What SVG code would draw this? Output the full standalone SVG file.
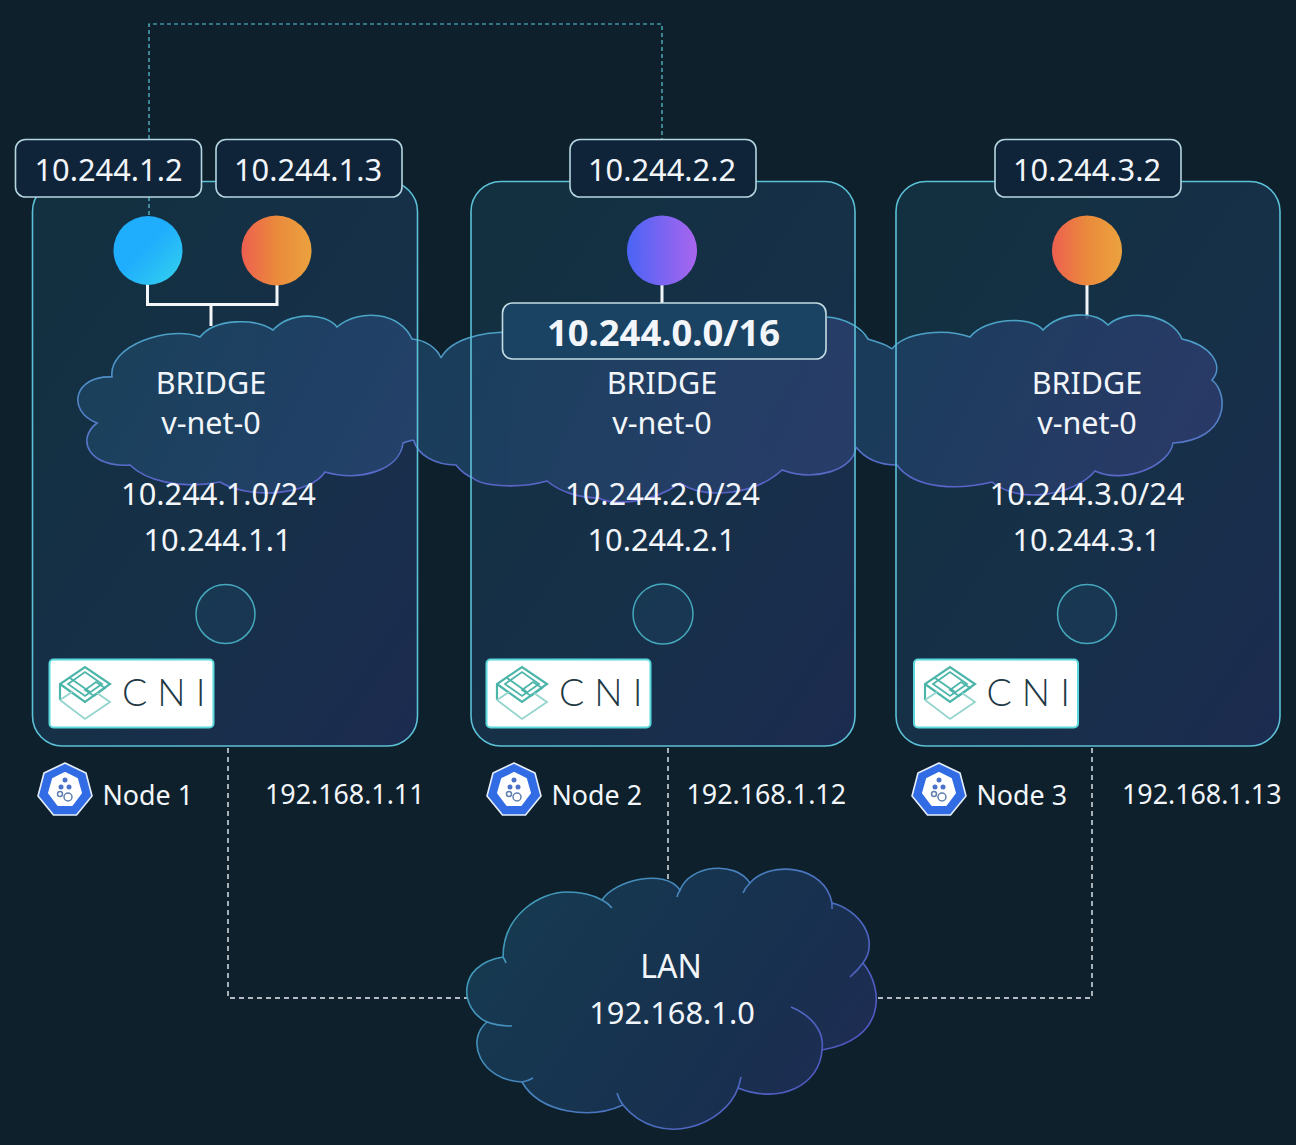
<svg xmlns="http://www.w3.org/2000/svg" width="1296" height="1145" viewBox="0 0 1296 1145">
<style>
text{font-family:"Noto Sans","Open Sans","DejaVu Sans",sans-serif;fill:#f2f6fa;text-anchor:middle}
.box{stroke:none}
.edge{fill:none;stroke:#5cc0d6;stroke-width:1.6}
.lab{fill:#0f2438;stroke:#b5d5e0;stroke-width:1.6}
.t30{font-size:30.800px}
.t29{font-size:30.500px}
.n{font-size:26.800px;text-anchor:start}
.wire{fill:none;stroke:#f2f6f8;stroke-width:3}
.dt{fill:none;stroke:#5fc8d8;stroke-width:1.200;stroke-dasharray:4 3}
.dw{fill:none;stroke:#e8eef2;stroke-width:1.400;stroke-dasharray:5 4}
.port{fill:#1a3d58;fill-opacity:.6;stroke:#45a8bc;stroke-width:1.500}
.cf{stroke:none}
.cs{fill:none;stroke-width:1.600}
.cni{font-family:"Lato","Noto Sans",sans-serif;font-weight:300;font-size:37.500px;letter-spacing:10px;fill:#1e3844;text-anchor:start}
.cnibox{fill:#fff;stroke:#5ad8dc;stroke-width:2}
</style>
<defs>
<linearGradient id="gBox1" x1="0" y1="0" x2="1" y2="1"><stop offset="0" stop-color="#12303f"/><stop offset=".55" stop-color="#163048"/><stop offset="1" stop-color="#1c2b50"/></linearGradient>
<linearGradient id="gC1" gradientUnits="userSpaceOnUse" x1="77" y1="320" x2="418" y2="500"><stop offset="0" stop-color="#19425c"/><stop offset="1" stop-color="#274470"/></linearGradient>
<linearGradient id="gC2" gradientUnits="userSpaceOnUse" x1="418" y1="320" x2="855" y2="500"><stop offset="0" stop-color="#1a4260"/><stop offset="1" stop-color="#2c3f6e"/></linearGradient>
<linearGradient id="gC3" gradientUnits="userSpaceOnUse" x1="855" y1="320" x2="1223" y2="500"><stop offset="0" stop-color="#1b4060"/><stop offset="1" stop-color="#2e3a6c"/></linearGradient>
<linearGradient id="gCloudS" gradientUnits="userSpaceOnUse" x1="0" y1="320" x2="0" y2="500"><stop offset="0" stop-color="#4aa5c6"/><stop offset="1" stop-color="#5a5ec8"/></linearGradient>
<linearGradient id="gLanF" gradientUnits="userSpaceOnUse" x1="500" y1="880" x2="840" y2="1120"><stop offset="0" stop-color="#163a50"/><stop offset=".6" stop-color="#17314f"/><stop offset="1" stop-color="#1e2c52"/></linearGradient>
<linearGradient id="gLanS" gradientUnits="userSpaceOnUse" x1="520" y1="880" x2="800" y2="1120"><stop offset="0" stop-color="#3f9fb8"/><stop offset="1" stop-color="#5257c4"/></linearGradient>
<linearGradient id="gBlue" x1="0" y1="0" x2="1" y2="1"><stop offset=".45" stop-color="#1fadfd"/><stop offset="1" stop-color="#34d3ee"/></linearGradient>
<linearGradient id="gOrange" x1="0" y1="0" x2="1" y2="0"><stop offset="0" stop-color="#ed5f50"/><stop offset=".5" stop-color="#ea8a3c"/><stop offset="1" stop-color="#eba23e"/></linearGradient>
<linearGradient id="gPurple" x1="0" y1="0" x2="1" y2="0"><stop offset="0" stop-color="#4a64f5"/><stop offset="1" stop-color="#a965ee"/></linearGradient>
<g id="cniLogo" fill="none" stroke="#4bb5aa">
<path d="M0 40V24L25 7 50 24 25 42 0 24" stroke-width="2.200"/>
<path d="M8 24 25 12 42 24 25 36Z" stroke-width="1.800"/>
<path d="M25 30 36 22 45 28 34 36ZM10 18 30 32" stroke-width="1.800"/>
<path d="M0 40 25 59 50 42 37 33M0 40 12 32" stroke="#93d4cd" stroke-width="1.800"/>
</g>
<g id="k8s">
<path d="M0-27 21-17 27 6 11.500 25-11.500 25-27 6-21-17Z" fill="#326ce5" stroke="#e6eefb" stroke-width="1.600" stroke-linejoin="round"/>
<path d="M0-17 12-11 16 3 7 15-7 15-16 3-12-11Z" fill="#fff" stroke="#fff" stroke-width="2" stroke-linejoin="round"/>
<g fill="#4a72c8"><circle cx="0" cy="-10" r="2.500"/><circle cx="-4" cy="-3" r="2.500"/><circle cx="4" cy="-3" r="2.500"/></g>
<g fill="none" stroke="#5f7faf" stroke-width="1.500"><circle cx="-5" cy="4" r="2.500"/><circle cx="3" cy="7" r="4"/></g>
</g>
</defs>
<rect id="background" x="0" y="0" width="1296" height="1145" fill="#0d202c"/>

<g id="connectors">
<path class="dt" d="M149 216V24H662V140"/>
<path class="dw" d="M228 748V998H467"/>
<path class="dw" d="M668 748V885"/>
<path class="dw" d="M1092 748V998H877"/>
</g>

<g id="node-1"><rect class="box" x="32.500" y="181.500" width="385" height="564.500" rx="30" fill="url(#gBox1)"/></g>
<g id="node-2"><rect class="box" x="471" y="181.500" width="384" height="564.500" rx="30" fill="url(#gBox1)"/></g>
<g id="node-3"><rect class="box" x="896" y="181.500" width="384" height="564.500" rx="30" fill="url(#gBox1)"/></g>

<g id="dash-over-node"><path class="dt" d="M149 197V217"/></g>

<g id="wires">
<path class="wire" d="M147.500 284V304.500H277V284M211 304.500V326"/>
<path class="wire" d="M662 284V304"/>
<path class="wire" d="M1087 284V319"/>
</g>

<g id="bridge-clouds" opacity=".88">
<path id="bridge-1-fill" class="cf" fill="url(#gC1)" d="M418 341C415 340 414 339 412 339C400 312 360 308 337 327C325 312 290 312 273 330C255 318 215 318 200 337C170 325 108 345 112 377C75 375 65 410 97 423C75 440 90 468 130 465C145 480 180 490 220 482C250 500 310 495 325 472C360 482 400 470 403 443Q408 441 413.500 440Q415 446 418 451Z"/>
<path id="bridge-2-fill" class="cf" fill="url(#gC2)" d="M418 341C426 343 436 349 441 358C450 340 480 332 510 332L827 317C840 318 850 322 855 328L856 447C854 470 815 482 782 470C755 495 705 500 680 483C650 505 610 505 599 498C580 498 560 492 547 481C515 490 480 485 473 478C465 475 460 470 456 465C440 465 425 460 418 451Z"/>
<path id="bridge-3-fill" class="cf" fill="url(#gC3)" d="M855 328C858 331 865 335 868 339C876 342 886 344 892 349C905 332 945 328 970 337C985 318 1030 315 1043 330C1060 312 1095 310 1108 325C1125 309 1170 312 1182 339C1210 345 1225 365 1212 380C1230 395 1228 440 1173 443C1170 465 1125 485 1095 471C1075 495 1020 505 992 482C960 490 915 490 897 465Q870 465 856 447Z"/>
</g>
<g id="bridge-outlines">
<path class="cs" stroke="url(#gCloudS)" d="M441 358C437 348 425 340 412 339C400 312 360 308 337 327C325 312 290 312 273 330C255 318 215 318 200 337C170 325 108 345 112 377C75 375 65 410 97 423C75 440 90 468 130 465C145 480 180 490 220 482C250 500 310 495 325 472C360 482 400 470 403 443Q408 441 413.500 440"/>
<path class="cs" stroke="url(#gCloudS)" d="M441 358C450 340 480 332 510 332M827 317C845 318 862 328 868 339C876 342 886 344 892 349"/>
<path class="cs" stroke="url(#gCloudS)" d="M413.500 440C418 455 435 465 456 465C460 470 465 475 473 478C480 485 515 490 547 481C560 492 580 498 599 498C610 505 650 505 680 483C705 500 755 495 782 470C815 482 854 470 856 447"/>
<path class="cs" stroke="url(#gCloudS)" d="M892 349C905 332 945 328 970 337C985 318 1030 315 1043 330C1060 312 1095 310 1108 325C1125 309 1170 312 1182 339C1210 345 1225 365 1212 380C1230 395 1228 440 1173 443C1170 465 1125 485 1095 471C1075 495 1020 505 992 482C960 490 915 490 897 465Q870 465 856 447"/>
</g>

<g id="node-outlines">
<rect class="edge" x="32.500" y="181.500" width="385" height="564.500" rx="30"/>
<rect class="edge" x="471" y="181.500" width="384" height="564.500" rx="30"/>
<rect class="edge" x="896" y="181.500" width="384" height="564.500" rx="30"/>
</g>

<g id="pod-1"><circle cx="148" cy="250.500" r="34.500" fill="url(#gBlue)"/></g>
<g id="pod-2"><circle cx="276.500" cy="250.500" r="35" fill="url(#gOrange)"/></g>
<g id="pod-3"><circle cx="662" cy="250.500" r="35" fill="url(#gPurple)"/></g>
<g id="pod-4"><circle cx="1087" cy="250.500" r="35" fill="url(#gOrange)"/></g>

<g id="ip-1"><rect class="lab" x="15.500" y="139.500" width="186" height="57.500" rx="10"/><text class="t30" x="108.500" y="180.500">10.244.1.2</text></g>
<g id="ip-2"><rect class="lab" x="216" y="139.500" width="186" height="57.500" rx="10"/><text class="t30" x="308" y="180.500">10.244.1.3</text></g>
<g id="ip-3"><rect class="lab" x="570" y="139.500" width="186" height="57.500" rx="10"/><text class="t30" x="662" y="180.500">10.244.2.2</text></g>
<g id="ip-4"><rect class="lab" x="995" y="139.500" width="186" height="57.500" rx="10"/><text class="t30" x="1087" y="180.500">10.244.3.2</text></g>

<g id="network-label"><rect x="502.500" y="303" width="323.500" height="56" rx="10" fill="#1a4262" stroke="#c3dbe3" stroke-width="1.600"/><text x="663.500" y="345.500" style="font-size:36.400px;font-weight:700">10.244.0.0/16</text></g>

<g id="bridge-text-1"><text class="t29" x="211" y="394">BRIDGE</text><text class="t29" x="211" y="434">v-net-0</text><text class="t30" x="218.500" y="505">10.244.1.0/24</text><text class="t30" x="217.500" y="551">10.244.1.1</text></g>
<g id="bridge-text-2"><text class="t29" x="662" y="394">BRIDGE</text><text class="t29" x="662" y="434">v-net-0</text><text class="t30" x="662.500" y="505">10.244.2.0/24</text><text class="t30" x="661.500" y="551">10.244.2.1</text></g>
<g id="bridge-text-3"><text class="t29" x="1087" y="394">BRIDGE</text><text class="t29" x="1087" y="434">v-net-0</text><text class="t30" x="1087" y="505">10.244.3.0/24</text><text class="t30" x="1086.500" y="551">10.244.3.1</text></g>

<g id="port-1"><circle class="port" cx="225.500" cy="614" r="29.500"/></g>
<g id="port-2"><circle class="port" cx="663" cy="614" r="30"/></g>
<g id="port-3"><circle class="port" cx="1087" cy="614" r="29.500"/></g>

<g id="cni-1"><rect class="cnibox" x="49.500" y="659.500" width="164" height="68" rx="4"/><use href="#cniLogo" transform="translate(60 660)"/><text class="cni" x="122" y="706">CNI</text></g>
<g id="cni-2"><rect class="cnibox" x="486.500" y="659.500" width="164" height="68" rx="4"/><use href="#cniLogo" transform="translate(497 660)"/><text class="cni" x="559" y="706">CNI</text></g>
<g id="cni-3"><rect class="cnibox" x="914" y="659.500" width="164" height="68" rx="4"/><use href="#cniLogo" transform="translate(925 660)"/><text class="cni" x="986.500" y="706">CNI</text></g>

<g id="node-label-1"><use href="#k8s" transform="translate(65 790)"/><text class="n" x="102.500" y="805">Node 1</text><text class="n" x="265" y="804">192.168.1.11</text></g>
<g id="node-label-2"><use href="#k8s" transform="translate(514 790)"/><text class="n" x="551.500" y="805">Node 2</text><text class="n" x="686.500" y="804">192.168.1.12</text></g>
<g id="node-label-3"><use href="#k8s" transform="translate(939 790)"/><text class="n" x="976.500" y="805">Node 3</text><text class="n" x="1122" y="804">192.168.1.13</text></g>

<g id="lan">
<path d="M503 957C503 915 540 892 567 892C582 892 595 896 602 900C615 880 665 868 680 890C690 865 735 860 750 883C770 860 825 865 832 903C860 910 880 940 863 963C885 990 885 1040 822 1050C820 1085 780 1105 738 1088C725 1125 660 1150 623 1105C590 1120 540 1113 522 1082C480 1080 465 1040 487 1022C460 1010 455 965 503 957Z" fill="url(#gLanF)" stroke="url(#gLanS)" stroke-width="1.600"/>
<path class="cs" stroke="url(#gLanS)" d="M602 900Q608 903 612 908M680 890Q678 893 677 897M750 883Q745 888 743 893M832 903V909M863 963Q858 970 850 977M791 1007C810 1015 825 1030 822 1050M738 1088Q740 1082 741 1077M623 1105Q619 1100 617 1093M522 1082Q528 1081 533 1078M487 1022Q498 1026 512 1026M503 957Q505 960 506 963"/>
<text x="671" y="978" style="font-size:32px">LAN</text>
<text x="672" y="1024" style="font-size:30.800px">192.168.1.0</text>
</g>
</svg>
